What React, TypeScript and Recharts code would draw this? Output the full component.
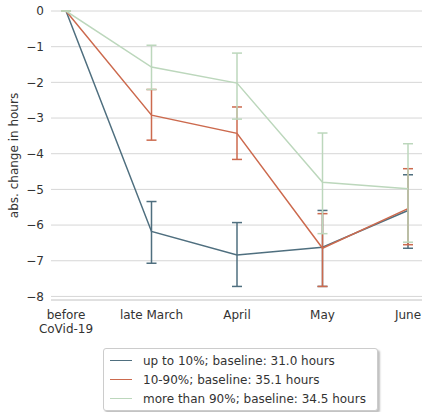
import React from "react";
import { LineChart, Line, XAxis, YAxis, CartesianGrid, ErrorBar } from "recharts";

const periods = ["before\nCoVid-19", "late March", "April", "May", "June"];

const lowShare = [0, -6.18, -6.84, -6.62, -5.59];
const lowShareLower = [0, -7.07, -7.72, -7.72, -6.65];
const lowShareUpper = [0, -5.34, -5.93, -5.59, -4.59];

const midShare = [0, -2.92, -3.43, -6.65, -5.54];
const midShareLower = [0, -3.62, -4.16, -7.72, -6.55];
const midShareUpper = [0, -2.2, -2.69, -5.68, -4.42];

const highShare = [0, -1.57, -2.02, -4.8, -4.98];
const highShareLower = [0, -2.2, -3.03, -6.24, -6.48];
const highShareUpper = [0, -0.96, -1.18, -3.42, -3.72];

const yTicks = [0, -1, -2, -3, -4, -5, -6, -7, -8];

const series = [
  { key: "low", name: "up to 10%; baseline: 31.0 hours", color: "#4f6f7f" },
  { key: "mid", name: "10-90%; baseline: 35.1 hours", color: "#cc6a4e" },
  { key: "high", name: "more than 90%; baseline: 34.5 hours", color: "#bcd7bc" },
];

const data = periods.map((period, i) => ({
  period,
  low: lowShare[i],
  lowErr: [lowShare[i] - lowShareLower[i], lowShareUpper[i] - lowShare[i]],
  mid: midShare[i],
  midErr: [midShare[i] - midShareLower[i], midShareUpper[i] - midShare[i]],
  high: highShare[i],
  highErr: [highShare[i] - highShareLower[i], highShareUpper[i] - highShare[i]],
}));

const FONT = "DejaVu Sans, sans-serif";
const TEXT = "#333333";
const FS = 12;

const fmtTick = (v: number) => (v < 0 ? `\u2212${Math.abs(v)}` : `${v}`);

const PeriodTick = (props: any) => {
  const { x, y, payload } = props;
  const lines = String(payload.value).split("\n");
  return (
    <text x={x} y={y} textAnchor="middle" fill={TEXT} fontSize={FS} fontFamily={FONT}>
      {lines.map((line, i) => (
        <tspan key={i} x={x} dy={i === 0 ? 17 : 14}>
          {line}
        </tspan>
      ))}
    </text>
  );
};

const LegendBox = () => (
  <div
    style={{
      position: "absolute",
      left: 103,
      top: 348,
      border: "1px solid #cccccc",
      borderRadius: 3,
      background: "#fff",
      boxShadow: "2px 2px 2px rgba(0,0,0,0.25)",
      padding: "2px 8px 2px 6px",
      fontFamily: FONT,
      fontSize: FS,
      color: TEXT,
      width: 259,
      whiteSpace: "nowrap",
    }}
  >
    {series.map((s) => (
      <div key={s.key} style={{ display: "flex", alignItems: "center", height: 19 }}>
        <div style={{ width: 22, height: 0, borderTop: `1.5px solid ${s.color}`, marginRight: 11 }} />
        <span>{s.name}</span>
      </div>
    ))}
  </div>
);

const YLabel = (props: any) => {
  const { viewBox } = props;
  const cy = viewBox.y + viewBox.height / 2;
  return (
    <text
      x={14}
      y={cy}
      transform={`rotate(-90, 14, ${cy})`}
      textAnchor="middle"
      dominantBaseline="central"
      fill={TEXT}
      fontSize={FS}
      fontFamily={FONT}
    >
      abs. change in hours
    </text>
  );
};

export default function App() {
  return (
    <div style={{ position: "absolute", left: 0, top: 0, width: 422, height: 412 }}>
      <LineChart
        width={422}
        height={412}
        data={data}
        margin={{ top: 11, right: 0, bottom: 0, left: 0 }}
      >
        <CartesianGrid vertical={false} stroke="#d6d6d6" strokeWidth={1} />
        <XAxis
          dataKey="period"
          type="category"
          interval={0}
          padding={{ left: 15, right: 14 }}
          tickLine={false}
          tickSize={0}
          axisLine={{ stroke: "#d6d6d6" }}
          tick={<PeriodTick />}
          height={112}
        />
        <YAxis
          width={51}
          domain={[-8.1, 0]}
          ticks={yTicks}
          allowDataOverflow
          tickLine={false}
          axisLine={false}
          tickSize={0}
          tickMargin={7}
          tickFormatter={fmtTick}
          tick={{ fill: TEXT, fontSize: FS, fontFamily: FONT }}
          label={<YLabel />}
        />
        {series.map((s) => (
          <Line
            key={s.key}
            type="linear"
            dataKey={s.key}
            name={s.name}
            stroke={s.color}
            strokeWidth={1.5}
            dot={false}
            activeDot={false}
            isAnimationActive={false}
          >
            <ErrorBar
              dataKey={`${s.key}Err`}
              direction="y"
              width={5}
              stroke={s.color}
              strokeWidth={1.5}
              isAnimationActive={false}
            />
          </Line>
        ))}
      </LineChart>
      <LegendBox />
    </div>
  );
}
